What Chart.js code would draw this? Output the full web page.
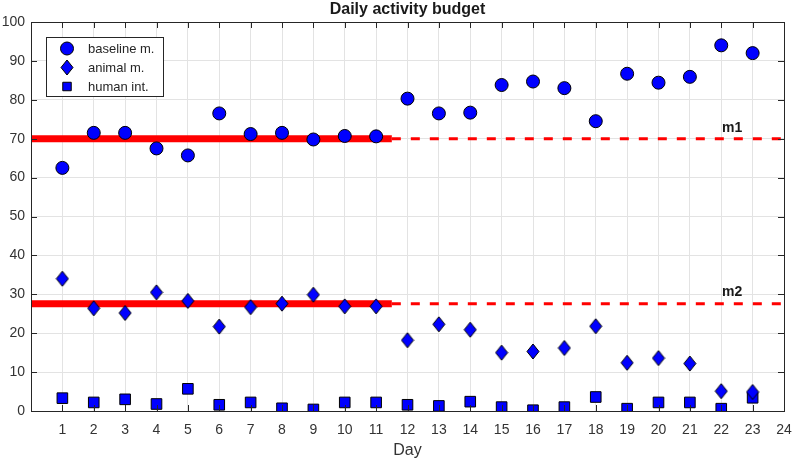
<!DOCTYPE html>
<html>
<head>
<meta charset="utf-8">
<script src="https://cdn.jsdelivr.net/npm/chart.js@4"></script>
<style>
  html, body { margin: 0; padding: 0; background: #fff; }
  #wrap { width: 794px; height: 462px; }
</style>
</head>
<body>
<div id="wrap"><canvas id="chart"></canvas></div>
<script>
// data
const days = [1, 2, 3, 4, 5, 6, 7, 8, 9, 10, 11, 12, 13, 14, 15, 16, 17, 18, 19, 20, 21, 22, 23];
const baseline = [62.5, 71.5, 71.5, 67.5, 65.7, 76.5, 71.2, 71.5, 69.8, 70.7, 70.6, 80.3, 76.5, 76.7, 83.8, 84.7, 83.0, 74.5, 86.7, 84.4, 85.9, 94.0, 92.0];
const animal = [34.0, 26.4, 25.2, 30.5, 28.3, 21.7, 26.7, 27.6, 29.9, 26.9, 26.9, 18.2, 22.3, 20.9, 15.0, 15.3, 16.2, 21.8, 12.4, 13.6, 12.2, 5.1, 4.9];
const human = [3.3, 2.2, 3.0, 1.8, 5.7, 1.6, 2.2, 0.7, 0.4, 2.2, 2.2, 1.6, 1.3, 2.4, 1.0, 0.2, 1.0, 3.6, 0.6, 2.2, 2.2, 0.6, 3.4];
const seriesNames = ['baseline m.', 'animal m.', 'human int.'];
const means = [70, 27.6];
const meanNames = ['m1', 'm2'];
const splitDay = 11.5;
const xRange = [0, 24];
const yRange = [0, 100];

const BLUE = '#0000ff';
const RED = '#ff0000';
const AXIS = '#262626';
const FONT = '"Liberation Sans", Arial, sans-serif';

function diamondMarker(w, h) {
  const c = document.createElement('canvas');
  c.width = w + 2;
  c.height = h + 2;
  const g = c.getContext('2d');
  g.beginPath();
  g.moveTo(c.width / 2, 1);
  g.lineTo(c.width - 1, c.height / 2);
  g.lineTo(c.width / 2, c.height - 1);
  g.lineTo(1, c.height / 2);
  g.closePath();
  g.fillStyle = BLUE;
  g.fill();
  g.strokeStyle = '#000';
  g.lineWidth = 1;
  g.stroke();
  return c;
}
const diamond = diamondMarker(12, 15);

const pts = vals => vals.map((v, i) => ({ x: days[i], y: v }));

const markerSets = [
  { label: seriesNames[0], data: pts(baseline), pointStyle: 'circle', pointRadius: 6.5 },
  { label: seriesNames[1], data: pts(animal), pointStyle: diamond, pointRadius: 7 },
  { label: seriesNames[2], data: pts(human), pointStyle: 'rect', pointRadius: 7.5 }
].map(d => Object.assign(d, {
  backgroundColor: BLUE, borderColor: '#000', borderWidth: 1, showLine: false, order: 0
}));

const meanSets = [];
means.forEach(m => {
  meanSets.push({
    data: [{ x: xRange[0], y: m }, { x: splitDay, y: m }],
    showLine: true, borderColor: RED, borderWidth: 7, pointRadius: 0, order: 1
  });
  meanSets.push({
    data: [{ x: splitDay, y: m }, { x: xRange[1], y: m }],
    showLine: true, borderColor: RED, borderWidth: 3, borderDash: [9, 10], pointRadius: 0, order: 1
  });
});

const decor = {
  id: 'decor',
  afterDraw(chart) {
    const ctx = chart.ctx;
    const a = chart.chartArea;
    const xs = chart.scales.x, ys = chart.scales.y;
    ctx.save();

    // inward tick marks
    ctx.strokeStyle = AXIS;
    ctx.lineWidth = 1;
    ctx.beginPath();
    for (let v = yRange[0]; v <= yRange[1]; v += 10) {
      const py = Math.round(ys.getPixelForValue(v)) + 0.5;
      ctx.moveTo(a.left, py); ctx.lineTo(a.left + 6, py);
      ctx.moveTo(a.right, py); ctx.lineTo(a.right - 6, py);
    }
    for (let v = xRange[0]; v <= xRange[1]; v++) {
      const px = Math.round(xs.getPixelForValue(v)) + 0.5;
      ctx.moveTo(px, a.bottom); ctx.lineTo(px, a.bottom - 6);
      ctx.moveTo(px, a.top); ctx.lineTo(px, a.top + 6);
    }
    ctx.stroke();

    // frame
    ctx.strokeRect(a.left + 0.5, a.top + 0.5, a.right - a.left, a.bottom - a.top);

    // title
    ctx.fillStyle = '#1a1a1a';
    ctx.font = 'bold 16px ' + FONT;
    ctx.textAlign = 'center';
    ctx.textBaseline = 'middle';
    ctx.fillText('Daily activity budget', (a.left + a.right) / 2, 10);

    // x label
    ctx.fillStyle = '#333';
    ctx.font = '16px ' + FONT;
    ctx.fillText('Day', (a.left + a.right) / 2, 451);

    // mean labels
    ctx.fillStyle = '#1a1a1a';
    ctx.font = 'bold 14px ' + FONT;
    means.forEach((m, i) => {
      ctx.fillText(meanNames[i], xs.getPixelForValue(22.35), ys.getPixelForValue(m) - 11);
    });

    // legend
    const lx = 46, ly = 37, lw = 117, lh = 59;
    ctx.fillStyle = '#fff';
    ctx.fillRect(lx, ly, lw, lh);
    ctx.strokeStyle = AXIS;
    ctx.strokeRect(lx + 0.5, ly + 0.5, lw, lh);
    ctx.font = '13px ' + FONT;
    ctx.textAlign = 'left';
    markerSets.forEach((d, i) => {
      const cy = 48.5 + i * 19;
      ctx.fillStyle = BLUE;
      ctx.strokeStyle = '#000';
      ctx.lineWidth = 1;
      Chart.helpers.drawPoint(ctx, {
        pointStyle: d.pointStyle, radius: d.pointStyle === 'rect' ? 6 : d.pointRadius, rotation: 0, borderWidth: 1
      }, 67, cy);
      ctx.fillStyle = '#262626';
      ctx.fillText(d.label, 88, cy + 1);
    });
    ctx.restore();
  }
};

new Chart(document.getElementById('chart'), {
  type: 'scatter',
  data: { datasets: [...markerSets, ...meanSets] },
  options: {
    responsive: true,
    maintainAspectRatio: false,
    animation: false,
    layout: { padding: { left: 0, right: 10, top: 22, bottom: 0 } },
    plugins: {
      legend: { display: false },
      title: { display: false },
      tooltip: { enabled: false }
    },
    scales: {
      x: {
        type: 'linear',
        min: xRange[0],
        max: xRange[1],
        afterFit: s => { s.height = 51; s.paddingLeft = 0; s.paddingRight = 0; },
        grid: { color: '#e3e3e3', drawTicks: false },
        border: { color: AXIS },
        ticks: {
          stepSize: 1,
          padding: 11,
          color: '#333',
          font: { family: FONT, size: 14 },
          maxRotation: 0,
          autoSkip: false,
          callback: v => (v === 0 ? '' : v)
        }
      },
      y: {
        min: yRange[0],
        max: yRange[1],
        afterFit: s => { s.width = 31; s.paddingTop = 0; s.paddingBottom = 0; },
        grid: { color: '#e3e3e3', drawTicks: false },
        border: { color: AXIS },
        ticks: {
          stepSize: 10,
          padding: 6,
          color: '#333',
          font: { family: FONT, size: 14 }
        }
      }
    }
  },
  plugins: [decor]
});
</script>
</body>
</html>
